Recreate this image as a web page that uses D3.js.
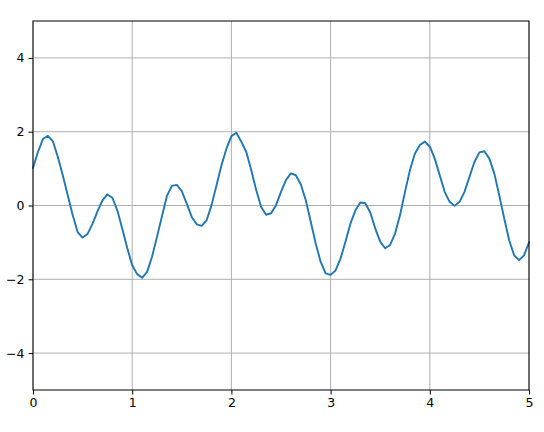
<!DOCTYPE html>
<html>
<head>
<meta charset="utf-8">
<script src="https://cdn.jsdelivr.net/npm/d3@7"></script>
<style>
  body { margin: 0; background: #fff; }
  svg { display: block; }
  .tick text { font-family: "DejaVu Sans", sans-serif; font-size: 12.5px; fill: #000; }
</style>
</head>
<body>
<div id="chart"></div>
<script>
const width = 544;
const height = 432;
const margin = { top: 21, right: 15, bottom: 42, left: 33 };

// sample times (step 0.05) and the values
const tValues = d3.range(0, 101).map(i => +(i * 0.05).toFixed(2));
const yValues = [
  1.02, 1.45, 1.80, 1.89, 1.74, 1.32, 0.82, 0.28, -0.26, -0.72,
  -0.87, -0.77, -0.50, -0.16, 0.14, 0.30, 0.21, -0.13, -0.63, -1.15,
  -1.62, -1.86, -1.96, -1.80, -1.39, -0.85, -0.29, 0.26, 0.53, 0.56,
  0.39, 0.05, -0.31, -0.51, -0.55, -0.40, 0.01, 0.55, 1.09, 1.54,
  1.88, 1.97, 1.73, 1.45, 0.96, 0.42, -0.04, -0.25, -0.21, 0.01,
  0.37, 0.69, 0.87, 0.82, 0.57, 0.14, -0.44, -1.03, -1.53, -1.84,
  -1.88, -1.76, -1.44, -0.98, -0.49, -0.13, 0.08, 0.06, -0.19, -0.62,
  -0.98, -1.16, -1.07, -0.76, -0.26, 0.37, 0.96, 1.41, 1.64, 1.73,
  1.60, 1.27, 0.82, 0.37, 0.10, -0.01, 0.10, 0.37, 0.78, 1.18,
  1.44, 1.47, 1.27, 0.87, 0.28, -0.35, -0.94, -1.35, -1.48, -1.35,
  -1.00
];
const xTicks = [0, 1, 2, 3, 4, 5];
const yTicks = [-4, -2, 0, 2, 4];

const data = tValues.map((t, i) => ({ t: t, y: yValues[i] }));

const svg = d3.select('#chart').append('svg').attr('width', width).attr('height', height);

const x = d3.scaleLinear().domain([0, 5]).range([margin.left, width - margin.right]);
const y = d3.scaleLinear().domain([-5, 5]).range([height - margin.bottom, margin.top]);

// grid
svg.append('g')
  .selectAll('line.vgrid')
  .data(xTicks)
  .join('line')
  .attr('x1', d => x(d)).attr('x2', d => x(d))
  .attr('y1', y(-5)).attr('y2', y(5))
  .attr('stroke', '#b0b0b0').attr('stroke-width', 1);

svg.append('g')
  .selectAll('line.hgrid')
  .data(yTicks)
  .join('line')
  .attr('x1', x(0)).attr('x2', x(5))
  .attr('y1', d => y(d)).attr('y2', d => y(d))
  .attr('stroke', '#b0b0b0').attr('stroke-width', 1);

// the curve
const line = d3.line().x(d => x(d.t)).y(d => y(d.y));
svg.append('path')
  .datum(data)
  .attr('fill', 'none')
  .attr('stroke', '#1f77b4')
  .attr('stroke-width', 1.9)
  .attr('stroke-linejoin', 'round')
  .attr('stroke-linecap', 'square')
  .attr('d', line);

// axes
const fmt = d => String(d).replace('-', '\u2212');

const xAxis = svg.append('g')
  .attr('transform', `translate(0,${height - margin.bottom})`)
  .call(d3.axisBottom(x).tickValues(xTicks).tickFormat(fmt).tickSize(4.5).tickPadding(4));

const yAxis = svg.append('g')
  .attr('transform', `translate(${margin.left},0)`)
  .call(d3.axisLeft(y).tickValues(yTicks).tickFormat(fmt).tickSize(4.5).tickPadding(4));

[xAxis, yAxis].forEach(a => {
  a.select('.domain').remove();
  a.selectAll('.tick line').attr('stroke', '#000').attr('stroke-width', 1);
});

// frame
svg.append('rect')
  .attr('x', x(0)).attr('y', y(5))
  .attr('width', x(5) - x(0)).attr('height', y(-5) - y(5))
  .attr('fill', 'none').attr('stroke', '#000').attr('stroke-width', 1);
</script>
</body>
</html>
